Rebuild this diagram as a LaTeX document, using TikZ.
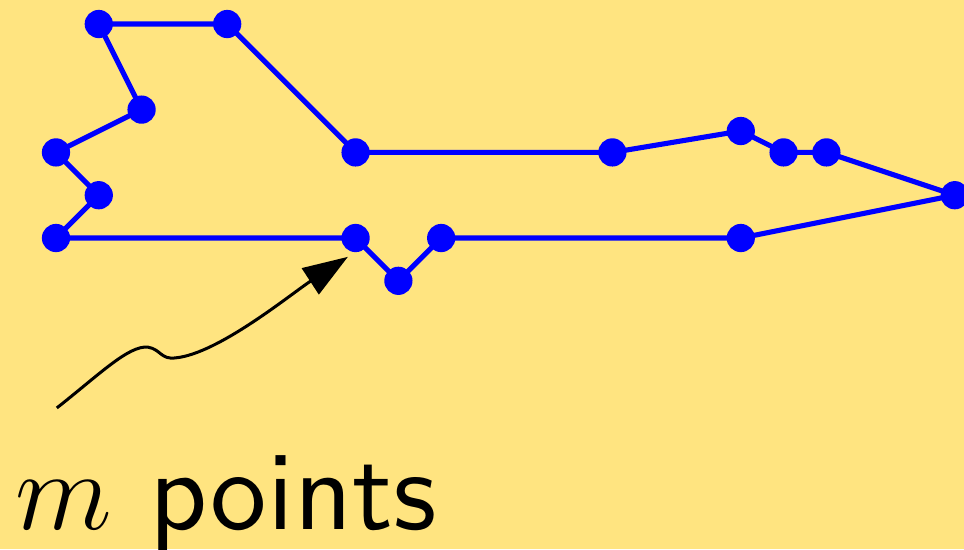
\RequirePackage{fix-cm}
\documentclass[tikz,border=0pt]{standalone}
\usepackage{fontspec}
\usetikzlibrary{arrows.meta}
\newfontfamily\labelsans{lmsans10-regular.otf}
\definecolor{slidebg}{RGB}{255,228,128}
\tikzset{
  pt/.style={circle,fill=blue,inner sep=0pt,minimum size=0.66cm},
  poly/.style={blue,line width=3.4pt,line join=round},
  pointer/.style={black,line width=2pt,-{Triangle[length=1.05cm,width=0.72cm]}}
}
\begin{document}
\begin{tikzpicture}
  % background and page extent
  \fill[slidebg] (-1.308,-7.266) rectangle (21.215,5.561);
  \useasboundingbox (-1.308,-7.266) rectangle (21.215,5.561);
  % polygon vertices
  \coordinate (c1) at (1,5);
  \coordinate (c2) at (4,5);
  \coordinate (c3) at (7,2);
  \coordinate (c4) at (13,2);
  \coordinate (c5) at (16,2.5);
  \coordinate (c6) at (17,2);
  \coordinate (c7) at (18,2);
  \coordinate (c8) at (21,1);
  \coordinate (c9) at (16,0);
  \coordinate (c10) at (9,0);
  \coordinate (c11) at (8,-1);
  \coordinate (c12) at (7,0);
  \coordinate (c13) at (0,0);
  \coordinate (c14) at (1,1);
  \coordinate (c15) at (0,2);
  \coordinate (c16) at (2,3);
  % outline
  \draw[poly] (c1) -- (c2) -- (c3) -- (c4) -- (c5) -- (c6) -- (c7) -- (c8)
    -- (c9) -- (c10) -- (c11) -- (c12) -- (c13) -- (c14) -- (c15) -- (c16) -- cycle;
  % dots on the vertices
  \foreach \i in {1,...,16} \node[pt] (v\i) at (c\i) {};
  % label and pointer
  \node[anchor=base west,inner sep=0pt,font=\fontsize{75}{82}\selectfont\labelsans]
    (lbl) at (-0.96,-6.8) {$m$ points};
  \coordinate (tail) at (0.02,-3.97);
  \draw[pointer] (tail) .. controls (1,-3.2) and (1.7,-2.5) .. (2.15,-2.55)
    .. controls (2.45,-2.6) and (2.45,-2.85) .. (2.8,-2.8)
    .. controls (3.8,-2.7) and (5.5,-1.3) .. (6.82,-0.44);
\end{tikzpicture}
\end{document}
